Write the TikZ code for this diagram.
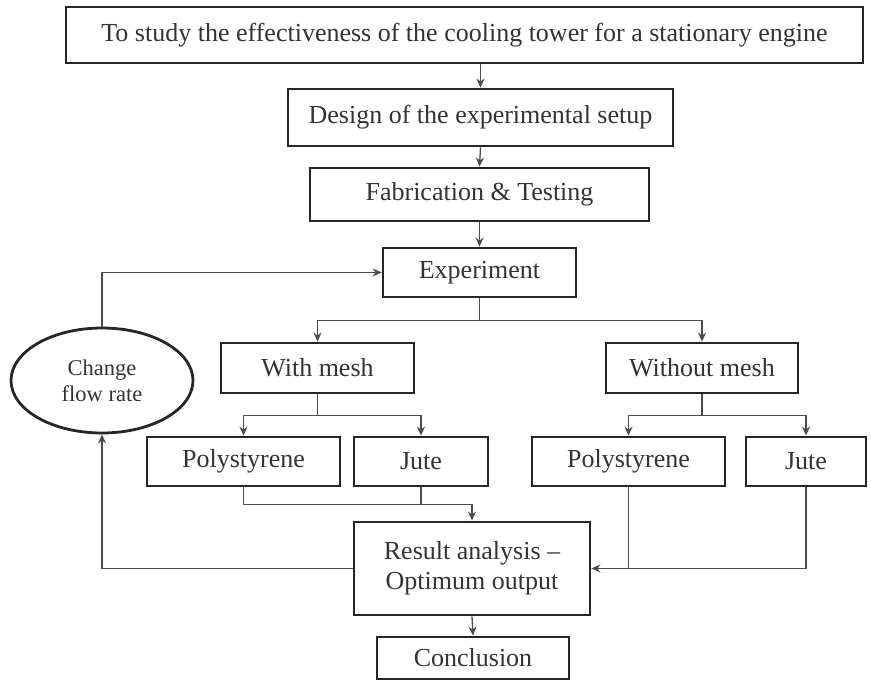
\documentclass[tikz,border=0pt]{standalone}
\usepackage{fontspec}
\setmainfont{Liberation Serif}
\usetikzlibrary{arrows.meta,shapes.geometric,calc}
\begin{document}
\begin{tikzpicture}[x=1pt,y=-1pt,
  box/.style={draw=black!85,line width=2.8pt,rectangle,inner sep=0pt,align=center,
    font=\fontsize{26}{30}\selectfont,text=black!80},
  oval/.style={draw=black!85,line width=2.8pt,ellipse,inner sep=0pt,align=center,
    font=\fontsize{22.5}{26}\selectfont,text=black!80},
  ln/.style={draw=black!70,line width=1.3pt},
  arr/.style={ln,-{Stealth[length=9pt,width=8pt]}}]
\useasboundingbox (0,0) rectangle (871,681);
\node[box,minimum width=797pt,minimum height=56pt] (top) at (464.5,35) {To study the effectiveness of the cooling tower for a stationary engine};
\node[box,minimum width=385pt,minimum height=57pt] (design) at (480.5,117.5) {Design of the experimental setup};
\node[box,minimum width=339pt,minimum height=53pt] (fab) at (479.5,194.5) {Fabrication \& Testing};
\node[box,minimum width=193pt,minimum height=49pt] (exp) at (479.5,272.5) {Experiment};
\node[box,minimum width=193pt,minimum height=50pt] (with) at (317.5,368) {With mesh};
\node[box,minimum width=192pt,minimum height=50pt] (without) at (702,368) {Without mesh};
\node[oval,minimum width=182pt,minimum height=105pt] (ell) at (102,380.5) {Change\\flow rate};
\node[box,minimum width=193pt,minimum height=49pt] (polyL) at (243.5,461.5) {Polystyrene};
\node[box,minimum width=134pt,minimum height=49pt] (juteL) at (421,461.5) {Jute};
\node[box,minimum width=193pt,minimum height=49pt] (polyR) at (628.5,461.5) {Polystyrene};
\node[box,minimum width=120pt,minimum height=49pt] (juteR) at (806,461.5) {Jute};
\node[box,minimum width=236pt,minimum height=93pt] (res) at (472,568.5) {Result analysis --\\Optimum output};
\node[box,minimum width=192pt,minimum height=42pt] (conc) at (473,658) {Conclusion};
% connectors
\draw[arr] (top.south -| design.north) -- (design.north);
\draw[arr] (design.south) -- (fab.north);
\draw[arr] (fab.south) -- (exp.north);
\draw[arr] (exp.south) -- ++(0,22) -| (with.north);
\draw[arr] (exp.south) ++(0,22) -| (without.north);
\draw[arr] (with.south) -- ++(0,21) -| (polyL.north);
\draw[arr] (with.south) ++(0,21) -| (juteL.north);
\draw[arr] (without.south) -- ++(0,21) -| (polyR.north);
\draw[arr] (without.south) ++(0,21) -| (juteR.north);
\draw[arr] (polyL.south) -- ++(0,17) -| (res.north);
\draw[ln] (juteL.south) -- ++(0,17);
\draw[arr] (juteR.south) |- (res.east);
\draw[ln] (polyR.south) -- (polyR.south |- res.east);
\draw[arr] (res.west) -| (ell.south);
\draw[arr] (ell.north) |- (exp.west);
\draw[arr] (res.south) -- (conc.north);
\end{tikzpicture}
\end{document}
